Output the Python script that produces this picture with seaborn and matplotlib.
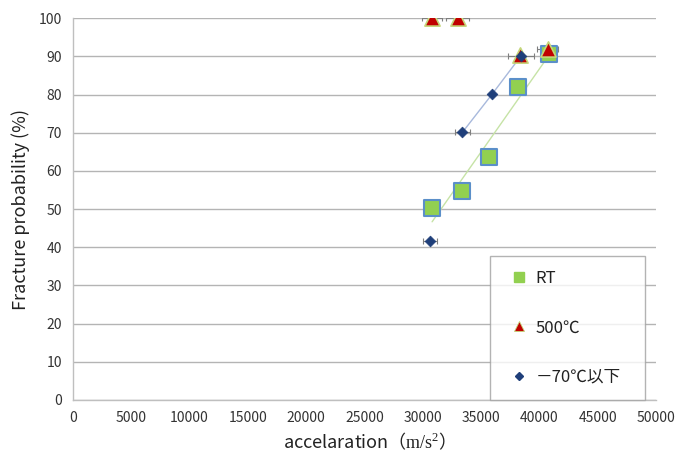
import matplotlib
matplotlib.use("Agg")
import matplotlib.pyplot as plt
from matplotlib.lines import Line2D
import seaborn as sns
import pandas as pd

# values
rt_x = [30800, 33350, 35650, 38150, 40800]
rt_y = [50.2, 54.7, 63.6, 82.0, 90.5]
rt_err = [0, 0, 0, 700, 0]

hot_x = [30800, 33000, 38300, 40700]
hot_y = [100, 100, 90.3, 91.8]
hot_err = [850, 1000, 0, 900]

cold_x = [30600, 33400, 35950, 38400]
cold_y = [41.7, 70.1, 80.1, 90.0]
cold_err = [600, 650, 0, 1100]

labels = ["RT", "500℃", "－70℃以下"]

sns.set_theme(style="white")
plt.rcParams["font.family"] = ["Noto Sans CJK JP", "DejaVu Sans"]
plt.rcParams["mathtext.fontset"] = "custom"
plt.rcParams["mathtext.rm"] = "Liberation Serif"

fig = plt.figure(figsize=(6.89, 4.54), dpi=100)
ax = fig.add_axes([0.106, 0.119, 0.846, 0.841])

rt = pd.DataFrame({"x": rt_x, "y": rt_y})
cold = pd.DataFrame({"x": cold_x[1:], "y": cold_y[1:]})

# trend line for RT, connecting line for -70
sns.regplot(data=rt, x="x", y="y", ax=ax, scatter=False, ci=None, truncate=True,
            line_kws={"color": "#c6e3a6", "lw": 1.0, "zorder": 2})
sns.lineplot(data=cold, x="x", y="y", ax=ax, color="#a8b9dc", lw=1.0, zorder=2)

err_kw = dict(fmt="none", ecolor="#7f7f7f", elinewidth=0.8, capsize=2, capthick=0.8, zorder=3)
ax.errorbar(rt_x, rt_y, xerr=rt_err, **err_kw)
ax.errorbar(hot_x, hot_y, xerr=hot_err, **err_kw)
ax.errorbar(cold_x, cold_y, xerr=cold_err, **err_kw)

sns.scatterplot(x=rt_x, y=rt_y, ax=ax, marker="s", s=120, color="#92d050",
                edgecolor="#5b8fc9", linewidth=1.5, zorder=4)
sns.scatterplot(x=hot_x, y=hot_y, ax=ax, marker="^", s=120, color="#c00000",
                edgecolor="#c4d67a", linewidth=1.2, zorder=5)
sns.scatterplot(x=cold_x, y=cold_y, ax=ax, marker="D", s=30, color="#1f3f7a",
                edgecolor="#1f3f7a", linewidth=0.5, zorder=6)

ax.set_xlim(0, 50000)
ax.set_ylim(0, 100)
ax.set_xticks(range(0, 50001, 5000))
ax.set_yticks(range(0, 101, 10))
ax.yaxis.grid(True, color="#b4b4b4", lw=1.0)
ax.set_axisbelow(True)
for side in ["top", "right"]:
    ax.spines[side].set_visible(False)
for side in ["left", "bottom"]:
    ax.spines[side].set_color("#bfbfbf")
    ax.spines[side].set_linewidth(1.0)
ax.tick_params(axis="x", direction="in", length=4, color="#bfbfbf", labelsize=10,
               labelcolor="#333333", pad=8)
ax.tick_params(axis="y", length=0, labelsize=10, labelcolor="#333333", pad=8)

ax.set_xlabel("accelaration（$\\mathrm{m/s^{2}}$）", fontsize=13, color="#222222", labelpad=4)
ax.set_ylabel("Fracture probability (%)", fontsize=13, color="#222222", labelpad=6)

handles = [
    Line2D([], [], ls="none", marker="s", ms=7, mfc="#92d050", mec="#92d050"),
    Line2D([], [], ls="none", marker="^", ms=7, mfc="#c00000", mec="#c4d67a", mew=0.6),
    Line2D([], [], ls="none", marker="D", ms=4.5, mfc="#1f3f7a", mec="#1f3f7a"),
]
leg = ax.legend(handles, labels, loc="lower left", bbox_to_anchor=(0.715, 0.0, 0.266, 0.393),
                mode="expand", fontsize=12, labelspacing=1.95, handlelength=1.8,
                handletextpad=0.1, borderpad=0.85, borderaxespad=0, fancybox=False,
                frameon=True)
leg.get_frame().set_edgecolor("#a0a0a0")
leg.get_frame().set_linewidth(1.0)
for t in leg.get_texts():
    t.set_color("#222222")

fig.savefig("out.png", dpi=100)
